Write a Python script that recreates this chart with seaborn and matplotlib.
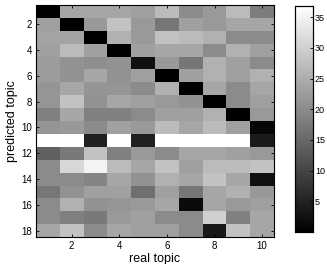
import numpy as np
import pandas as pd
import seaborn as sns
import matplotlib.pyplot as plt

# confusion counts (rows = predicted topic, cols = real topic)
real_topics = list(range(1, 11))
predicted_topics = list(range(1, 19))
counts = [
    [0, 24, 24, 24, 23, 27, 20, 22, 27, 18],
    [23, 0, 22, 28, 22, 17, 23, 22, 24, 24],
    [23.5, 23.5, 0, 25.5, 22, 28, 27, 25.5, 20, 20],
    [23, 27, 23, 0, 23, 24, 24, 20, 25.5, 23],
    [22.5, 21, 20.5, 21, 2.3, 22, 17, 25.5, 23, 20],
    [22.5, 21, 24, 21, 23, 0, 23, 25.5, 23, 25.5],
    [21.5, 24, 21.5, 21.5, 20, 25.5, 0, 24, 20, 24],
    [21.5, 28, 21, 24, 23, 22, 21, 0, 20, 23],
    [18.5, 24, 18.5, 18.5, 20, 23, 23, 25.5, 0, 22],
    [21.5, 22, 20, 23, 22, 27, 24, 27, 23, 1],
    [37, 37, 4.6, 37, 4.6, 37, 37, 37, 37, 4],
    [14, 17.5, 28, 18.5, 22, 20, 24, 24, 23, 22],
    [20, 31, 35, 27, 24, 28, 23, 27, 27, 28],
    [20, 20, 19, 24, 21, 25.5, 24, 28, 24, 2.3],
    [17, 21, 23, 23, 16, 23, 17, 24, 25.5, 22],
    [20, 25.5, 21, 21.5, 22, 24, 1.7, 24, 22, 23],
    [20, 18.5, 17.5, 22, 23, 20, 20, 30, 18.5, 24],
    [24, 28, 20, 24, 23, 23, 20, 3.5, 28, 24],
]
cbar_ticks = [5, 10, 15, 20, 25, 30, 35]

df = pd.DataFrame(counts, index=predicted_topics, columns=real_topics)

plt.rcParams['font.family'] = ['Liberation Sans', 'DejaVu Sans']

fig = plt.figure(figsize=(3.27, 2.64), dpi=100)
ax = fig.add_axes([0.110, 0.102, 0.728, 0.879])
cax = fig.add_axes([0.902, 0.121, 0.055, 0.856])

sns.heatmap(df, ax=ax, cmap='gray', vmin=0, vmax=36.8, cbar_ax=cax,
            xticklabels=False, yticklabels=False)

# matlab-like axes: ticks inside, box on
xt = [t for t in real_topics if t % 2 == 0]
yt = [t for t in predicted_topics if t % 2 == 0]
ax.set_xticks([t - 0.5 for t in xt])
ax.set_xticklabels([str(t) for t in xt], fontsize=7)
ax.set_yticks([t - 0.5 for t in yt])
ax.set_yticklabels([str(t) for t in yt], fontsize=7, rotation=0)
ax.tick_params(direction='in', length=2.5, width=0.6, top=True, right=True, pad=3)
for s in ax.spines.values():
    s.set_visible(True)
    s.set_linewidth(0.8)
ax.set_xlabel('real topic', fontsize=9, labelpad=1)
ax.set_ylabel('predicted topic', fontsize=9, labelpad=2)

cax.set_yticks(cbar_ticks)
cax.set_yticklabels([str(t) for t in cbar_ticks], fontsize=6.5)
cax.tick_params(direction='in', length=2.5, width=0.6, pad=1.5)
for s in cax.spines.values():
    s.set_visible(True)
    s.set_linewidth(0.8)

plt.savefig('out.png', dpi=100)
plt.close(fig)
